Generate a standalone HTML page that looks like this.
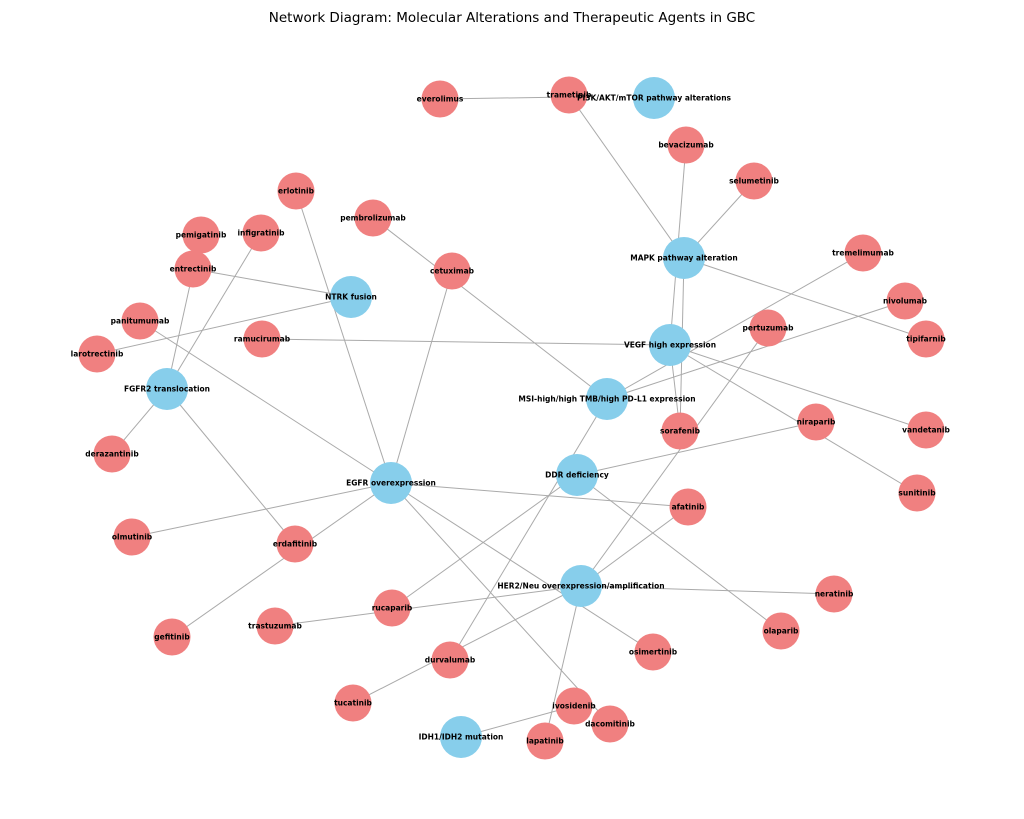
<!DOCTYPE html>
<html><head><style>body{margin:0;background:#fff}svg{display:block}text{font-family:"DejaVu Sans","Liberation Sans",sans-serif}</style></head>
<body>
<svg width="1024" height="819" viewBox="0 0 1024 819" xmlns="http://www.w3.org/2000/svg">
<rect width="1024" height="819" fill="#fff"/>
<text x="512" y="22" font-size="13.5" text-anchor="middle" fill="#000">Network Diagram: Molecular Alterations and Therapeutic Agents in GBC</text>
<g stroke="#aaa" stroke-width="1">
<line x1="440" y1="99" x2="569" y2="97"/>
<line x1="569" y1="95" x2="684" y2="258"/>
<line x1="686" y1="145" x2="670" y2="345"/>
<line x1="754" y1="181" x2="684" y2="258"/>
<line x1="684" y1="258" x2="926" y2="339"/>
<line x1="684" y1="258" x2="680" y2="431"/>
<line x1="670" y1="345" x2="680" y2="431"/>
<line x1="296" y1="191" x2="391" y2="483"/>
<line x1="373" y1="218" x2="607" y2="399"/>
<line x1="452" y1="271" x2="391" y2="483"/>
<line x1="201" y1="235" x2="167" y2="389"/>
<line x1="261" y1="233" x2="167" y2="389"/>
<line x1="193" y1="269" x2="351" y2="297"/>
<line x1="97" y1="354" x2="351" y2="297"/>
<line x1="140" y1="321" x2="391" y2="483"/>
<line x1="262" y1="339" x2="670" y2="345"/>
<line x1="863" y1="253" x2="607" y2="399"/>
<line x1="905" y1="301" x2="607" y2="399"/>
<line x1="768" y1="328" x2="581" y2="586"/>
<line x1="670" y1="345" x2="926" y2="430"/>
<line x1="670" y1="345" x2="917" y2="493"/>
<line x1="816" y1="422" x2="577" y2="475"/>
<line x1="607" y1="399" x2="450" y2="660"/>
<line x1="577" y1="475" x2="392" y2="608"/>
<line x1="577" y1="475" x2="781" y2="631"/>
<line x1="391" y1="483" x2="688" y2="507"/>
<line x1="688" y1="507" x2="581" y2="586"/>
<line x1="275" y1="626" x2="581" y2="586"/>
<line x1="834" y1="594" x2="581" y2="586"/>
<line x1="391" y1="483" x2="653" y2="652"/>
<line x1="391" y1="483" x2="172" y2="637"/>
<line x1="391" y1="483" x2="132" y2="537"/>
<line x1="391" y1="483" x2="610" y2="724"/>
<line x1="574" y1="706" x2="461" y2="737"/>
<line x1="545" y1="741" x2="581" y2="586"/>
<line x1="353" y1="703" x2="581" y2="586"/>
<line x1="167" y1="389" x2="112" y2="454"/>
<line x1="167" y1="389" x2="295" y2="544"/>
</g>
<g fill="#87CEEB">
<circle cx="654" cy="98" r="21"/><circle cx="684" cy="258" r="21"/><circle cx="351" cy="297" r="21"/>
<circle cx="670" cy="345" r="21"/><circle cx="607" cy="399" r="21"/><circle cx="167" cy="389" r="21"/>
<circle cx="577" cy="475" r="21"/><circle cx="391" cy="483" r="21"/><circle cx="581" cy="586" r="21"/>
<circle cx="461" cy="737" r="21"/>
</g>
<g fill="#F08080">
<circle cx="440" cy="99" r="18.5"/><circle cx="569" cy="95" r="18.5"/><circle cx="686" cy="145" r="18.5"/>
<circle cx="754" cy="181" r="18.5"/><circle cx="296" cy="191" r="18.5"/><circle cx="373" cy="218" r="18.5"/>
<circle cx="201" cy="235" r="18.5"/><circle cx="261" cy="233" r="18.5"/><circle cx="193" cy="269" r="18.5"/>
<circle cx="452" cy="271" r="18.5"/><circle cx="863" cy="253" r="18.5"/><circle cx="905" cy="301" r="18.5"/>
<circle cx="140" cy="321" r="18.5"/><circle cx="262" cy="339" r="18.5"/><circle cx="768" cy="328" r="18.5"/>
<circle cx="926" cy="339" r="18.5"/><circle cx="97" cy="354" r="18.5"/><circle cx="680" cy="431" r="18.5"/>
<circle cx="816" cy="422" r="18.5"/><circle cx="926" cy="430" r="18.5"/><circle cx="112" cy="454" r="18.5"/>
<circle cx="917" cy="493" r="18.5"/><circle cx="688" cy="507" r="18.5"/><circle cx="132" cy="537" r="18.5"/>
<circle cx="295" cy="544" r="18.5"/><circle cx="834" cy="594" r="18.5"/><circle cx="392" cy="608" r="18.5"/>
<circle cx="275" cy="626" r="18.5"/><circle cx="172" cy="637" r="18.5"/><circle cx="781" cy="631" r="18.5"/>
<circle cx="653" cy="652" r="18.5"/><circle cx="450" cy="660" r="18.5"/><circle cx="353" cy="703" r="18.5"/>
<circle cx="574" cy="706" r="18.5"/><circle cx="610" cy="724" r="18.5"/><circle cx="545" cy="741" r="18.5"/>
</g>
<g font-size="7.5" font-weight="bold" text-anchor="middle" fill="#000" dominant-baseline="central">
<text x="654" y="98">PI3K/AKT/mTOR pathway alterations</text>
<text x="684" y="258">MAPK pathway alteration</text>
<text x="351" y="297">NTRK fusion</text>
<text x="670" y="345">VEGF high expression</text>
<text x="607" y="399">MSI-high/high TMB/high PD-L1 expression</text>
<text x="167" y="389">FGFR2 translocation</text>
<text x="577" y="475">DDR deficiency</text>
<text x="391" y="483">EGFR overexpression</text>
<text x="581" y="586">HER2/Neu overexpression/amplification</text>
<text x="461" y="737">IDH1/IDH2 mutation</text>
<text x="440" y="99">everolimus</text><text x="569" y="95">trametinib</text><text x="686" y="145">bevacizumab</text>
<text x="754" y="181">selumetinib</text><text x="296" y="191">erlotinib</text><text x="373" y="218">pembrolizumab</text>
<text x="201" y="235">pemigatinib</text><text x="261" y="233">infigratinib</text><text x="193" y="269">entrectinib</text>
<text x="452" y="271">cetuximab</text><text x="863" y="253">tremelimumab</text><text x="905" y="301">nivolumab</text>
<text x="140" y="321">panitumumab</text><text x="262" y="339">ramucirumab</text><text x="768" y="328">pertuzumab</text>
<text x="926" y="339">tipifarnib</text><text x="97" y="354">larotrectinib</text><text x="680" y="431">sorafenib</text>
<text x="816" y="422">niraparib</text><text x="926" y="430">vandetanib</text><text x="112" y="454">derazantinib</text>
<text x="917" y="493">sunitinib</text><text x="688" y="507">afatinib</text><text x="132" y="537">olmutinib</text>
<text x="295" y="544">erdafitinib</text><text x="834" y="594">neratinib</text><text x="392" y="608">rucaparib</text>
<text x="275" y="626">trastuzumab</text><text x="172" y="637">gefitinib</text><text x="781" y="631">olaparib</text>
<text x="653" y="652">osimertinib</text><text x="450" y="660">durvalumab</text><text x="353" y="703">tucatinib</text>
<text x="574" y="706">ivosidenib</text><text x="610" y="724">dacomitinib</text><text x="545" y="741">lapatinib</text>
</g>
</svg>
</body></html>
